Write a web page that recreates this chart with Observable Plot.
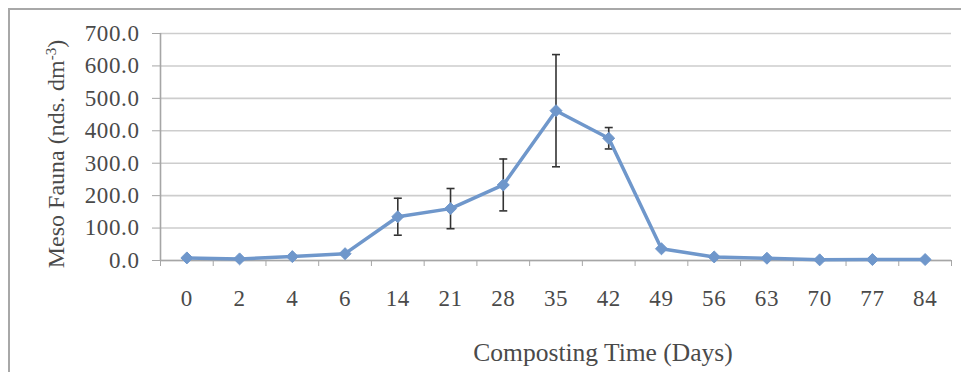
<!DOCTYPE html>
<html>
<head>
<meta charset="utf-8">
<script src="https://cdn.jsdelivr.net/npm/d3@7"></script>
<script src="https://cdn.jsdelivr.net/npm/@observablehq/plot@0.6"></script>
<style>
  html, body { margin: 0; padding: 0; background: #fff; }
  #wrap { position: relative; width: 961px; height: 372px; overflow: hidden; }
  #frame { position: absolute; left: 8px; top: 8px; width: 970px; height: 400px;
           border-top: 2px solid #a8a8a8; border-left: 2px solid #a8a8a8; box-sizing: border-box; pointer-events: none; }
  #wrap svg { position: absolute; left: 0; top: 0; }
  #wrap svg, #wrap svg text, #wrap svg g { font-family: "Liberation Serif", "Times New Roman", serif !important; }
  #wrap svg g[aria-label="y-axis tick label"] text, #wrap svg g[aria-label="x-axis tick label"] text { letter-spacing: 0.6px; }
</style>
</head>
<body>
<div id="wrap"><div id="frame"></div></div>
<script>
const days = ["0", "2", "4", "6", "14", "21", "28", "35", "42", "49", "56", "63", "70", "77", "84"];
const mesoFauna = [8, 5, 12, 21, 135, 160, 233, 462, 377, 36, 11, 7, 2, 3, 3];
const stdDev = [null, null, null, null, 57, 62, 80, 173, 33, null, null, null, null, null, null];
const yTicks = [0, 100, 200, 300, 400, 500, 600, 700];
const xTitle = "Composting Time (Days)";
const yTitle = "Meso Fauna (nds. dm-3)";

const data = days.map((d, i) => ({i, day: d, mean: mesoFauna[i], sd: stdDev[i]}));
const bars = data.filter(d => d.sd != null);
const xDomain = [-0.5, days.length - 0.5];
const boundaries = d3.range(days.length + 1).map(i => i - 0.5);
const lineColor = "#6f97cb";
const axisColor = "#a6a6a6";

const cap = {
  draw(ctx, size) {
    const w = Math.sqrt(size / Math.PI);
    ctx.moveTo(-w, 0);
    ctx.lineTo(w, 0);
  }
};

const chart = Plot.plot({
  width: 961,
  height: 372,
  marginLeft: 160,
  marginRight: 10,
  marginTop: 33,
  marginBottom: 112,
  style: {fontSize: "23px", color: "#4a4a4a", background: "transparent"},
  x: {domain: xDomain},
  y: {domain: [0, 700]},
  marks: [
    Plot.gridY(yTicks, {stroke: "#cdcdcd", strokeOpacity: 1, strokeWidth: 1.6}),
    Plot.axisY(yTicks, {tickSize: 8, tickPadding: 13, tickFormat: d3.format(".1f"), stroke: axisColor, label: null}),
    Plot.axisX(boundaries, {tickSize: 6, tickFormat: () => "", stroke: axisColor, label: null}),
    Plot.axisX(d3.range(days.length), {tickSize: 0, tickPadding: 29, tickFormat: i => days[i], label: null}),
    Plot.ruleY([0], {stroke: axisColor, strokeWidth: 1.6}),
    Plot.ruleX([xDomain[0]], {stroke: axisColor, strokeWidth: 1.6}),
    Plot.ruleX(bars, {x: "i", y1: d => d.mean - d.sd, y2: d => d.mean + d.sd, stroke: "#333", strokeWidth: 1.6}),
    Plot.dot(bars, {x: "i", y: d => d.mean + d.sd, symbol: cap, r: 4, stroke: "#333", strokeWidth: 1.6, fill: "none"}),
    Plot.dot(bars, {x: "i", y: d => d.mean - d.sd, symbol: cap, r: 4, stroke: "#333", strokeWidth: 1.6, fill: "none"}),
    Plot.line(data, {x: "i", y: "mean", stroke: lineColor, strokeWidth: 3.5}),
    Plot.dot(data, {x: "i", y: "mean", symbol: "diamond2", r: 5.4, fill: lineColor, stroke: lineColor, strokeWidth: 1}),
    Plot.text([xTitle], {frameAnchor: "bottom", dx: 47, dy: 92, fontSize: 25.5, fill: "#4a4a4a", textAnchor: "middle", lineAnchor: "middle"}),
    Plot.text([yTitle], {frameAnchor: "left", dx: -104, dy: 7, rotate: -90, fontSize: 24, fill: "#4a4a4a", textAnchor: "middle", lineAnchor: "middle"})
  ]
});

document.getElementById("wrap").insertBefore(chart, document.getElementById("frame"));

// superscript for the unit in the y title
d3.select(chart).selectAll("text").each(function() {
  const t = d3.select(this);
  if (t.text() === yTitle) {
    t.text(null);
    t.append("tspan").text("Meso Fauna (nds. dm");
    t.append("tspan").attr("baseline-shift", "super").attr("font-size", "15px").text("-3");
    t.append("tspan").text(")");
  }
});
</script>
</body>
</html>
